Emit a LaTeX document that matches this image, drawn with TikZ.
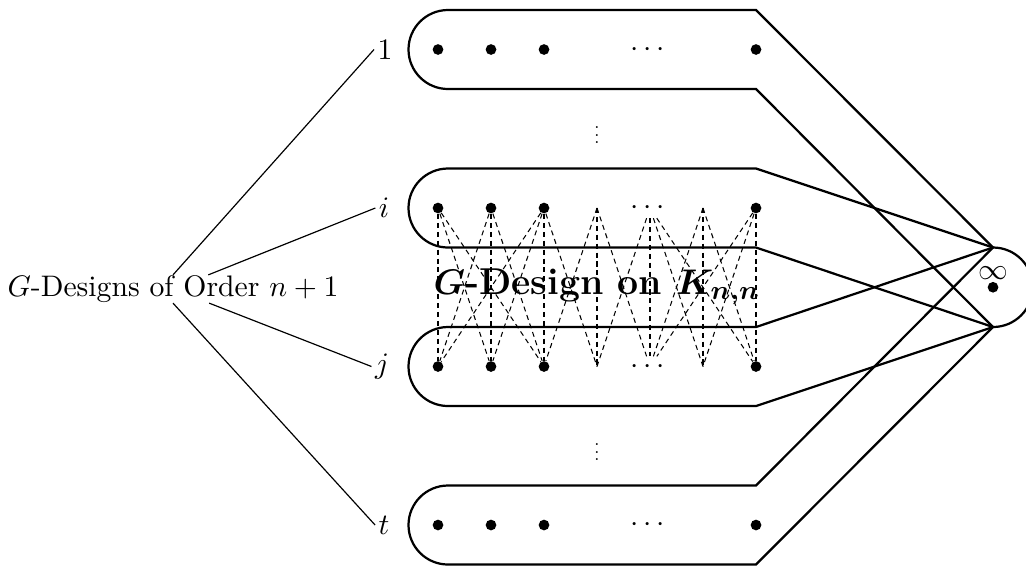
\documentclass[tikz,border=0pt]{standalone}
\usepackage{amsmath}
\usepackage{bm}
\begin{document}
\begin{tikzpicture}[x=0.3367pt,y=0.3367pt,
  outline/.style={line width=0.75pt,line join=miter},
  thinline/.style={line width=0.4pt},
  dl/.style={line width=0.35pt,dash pattern=on 1.7pt off 1.3pt},
  dotnode/.style={circle,fill=black,inner sep=0pt,minimum size=3.6pt},
  lab/.style={inner sep=1pt},
  cdotsnode/.style={inner sep=1pt},
  titlefont/.style={font=\fontsize{12.6pt}{15pt}\selectfont\bfseries}]
\useasboundingbox (0,0) rectangle (1026,565);
% infinity point
\coordinate (inftop) at (993,317.5);
\coordinate (infbot) at (993,238);
\draw[outline] (inftop) arc[start angle=90,end angle=-90,radius=39.75];
\node (infl) at (993,292) {$\infty$};
\node[dotnode] (inf) at (993,277.75) {};
% group outlines
\foreach \cc in {515.5,357,198.5,40}{
  \draw[outline] (inftop) -- (756,{\cc+39.5}) -- (448,{\cc+39.5})
    arc[start angle=90,end angle=270,radius=39.5] -- (756,{\cc-39.5}) -- (infbot);
}
% dots of groups 1 and t
\foreach \rr/\YY in {o/515.5,t/40}{
  \foreach \kk/\XX in {0/438,1/491,2/544,6/756}{
    \node[dotnode] (\rr\kk) at (\XX,\YY) {};
  }
  \node[cdotsnode] (\rr4) at (650,\YY) {$\cdots$};
}
% rows i (a) and j (b)
\foreach \rr/\YY in {a/357,b/198.5}{
  \foreach \kk/\XX in {0/438,1/491,2/544,6/756}{
    \node[dotnode] (\rr\kk) at (\XX,\YY) {};
  }
  \coordinate (\rr3) at (597,\YY);
  \coordinate (\rr5) at (703,\YY);
  \node[cdotsnode] (\rr4) at (650,\YY) {$\cdots$};
}
% dashed K_{n,n} edges
\foreach \uu in {0,1,2}{\foreach \vv in {0,1,2}{\draw[dl] (a\uu) -- (b\vv);}}
\foreach \uu in {4,5,6}{\foreach \vv in {4,5,6}{\draw[dl] (a\uu) -- (b\vv);}}
\foreach \uu/\vv in {2/3,3/2,3/3,3/4,4/3}{\draw[dl] (a\uu) -- (b\vv);}
% vertical dots
\node[scale=0.62] (vdA) at (597,435.5) {$\vdots$};
\node[scale=0.62] (vdB) at (597,118.5) {$\vdots$};
% central title
\node[titlefont] (title) at (597,278) {$\bm{G}$-Design on $\bm{K_{n,n}}$};
% left side
\node[inner sep=0pt] (G) at (173,276) {$G$-Designs of Order $n+1$};
\node[lab] (l1) at (385,515.5) {$1$};
\node[lab] (li) at (384,357) {$i$};
\node[lab] (lj) at (382,198.5) {$j$};
\node[lab] (lt) at (384,40) {$t$};
\draw[thinline] (G.north) -- (l1.west);
\draw[thinline] (G) -- (li.west);
\draw[thinline] (G) -- (lj.west);
\draw[thinline] (G.south) -- (lt.west);
\end{tikzpicture}
\end{document}
